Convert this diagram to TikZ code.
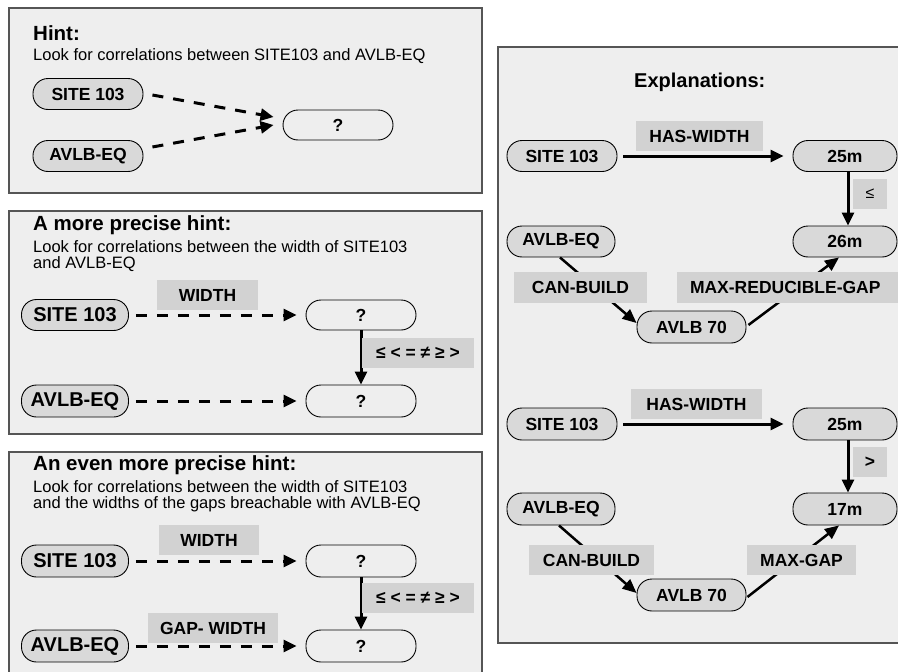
\documentclass[tikz,border=0pt]{standalone}
\usepackage{fontspec}
\setmainfont{Liberation Sans}
\usetikzlibrary{arrows.meta}
\definecolor{panelbg}{HTML}{EEEEEE}
\definecolor{panelline}{HTML}{555555}
\definecolor{nodegray}{HTML}{D9D9D9}
\definecolor{labgray}{HTML}{D2D2D2}
\tikzset{
  panel/.style={draw=panelline, line width=1.3pt, fill=panelbg},
  pill/.style={draw=black, line width=0.9pt, rounded corners=15pt, minimum height=31pt, inner sep=0pt, font=\fontsize{17.5}{20}\selectfont\bfseries},
  bigpill/.style={pill, font=\fontsize{20}{22}\selectfont\bfseries},
  grayfill/.style={fill=nodegray},
  lab/.style={fill=labgray, inner sep=0pt, minimum height=30pt, font=\fontsize{17.5}{20}\selectfont\bfseries},
  paneltitle/.style={anchor=west, inner sep=0pt, font=\fontsize{20.5}{23}\selectfont\bfseries},
  subtext/.style={anchor=west, inner sep=0pt, font=\fontsize{16.5}{19}\selectfont},
  dasharrow/.style={line width=3pt, dash pattern=on 11pt off 10pt, -{Triangle[length=13pt,width=12pt]}},
  solidarrow/.style={line width=3pt, -{Triangle[length=13pt,width=12pt]}},
  diagarrow/.style={line width=2.5pt, -{Triangle[length=14pt,width=12pt]}},
}
\begin{document}
\begin{tikzpicture}[x=1pt,y=-1pt]
\useasboundingbox (0,0) rectangle (898,672);
\clip (0,0) rectangle (898,672);
\fill[white] (0,0) rectangle (898,672);
% panels
\draw[panel] (9,8) rectangle (482,193);
\draw[panel] (9,211) rectangle (482,434);
\draw[panel] (9,452) rectangle (482,700);
\draw[panel] (498,47) rectangle (920,643);

% ---------- Panel 1
\node[paneltitle] (t1) at (33,33) {Hint:};
\node[subtext] (s1) at (33,56) {Look for correlations between SITE103 and AVLB-EQ};
\node[pill, grayfill, minimum width=110pt] (p1s) at (88,94) {SITE 103};
\node[pill, grayfill, minimum width=110pt] (p1a) at (88,156) {AVLB-EQ};
\node[pill, minimum width=110pt, minimum height=30pt] (p1q) at (338,125) {?};
\draw[dasharrow] ([xshift=9pt,yshift=-1pt]p1s.east) -- ([xshift=-9pt,yshift=8pt]p1q.west);
\draw[dasharrow] ([xshift=9pt,yshift=9pt]p1a.east) -- ([xshift=-9pt]p1q.west);

% ---------- Panel 2
\node[paneltitle] (t2) at (33,225) {A more precise hint:};
\node[subtext] (s2a) at (33,247) {Look for correlations between the width of SITE103};
\node[subtext] (s2b) at (33,264) {and AVLB-EQ};
\node[bigpill, grayfill, minimum width=107pt] (p2s) at (75,315) {SITE 103};
\node[pill, minimum width=110pt, minimum height=30pt] (p2q1) at (361,315) {?};
\node[bigpill, grayfill, minimum width=107pt, minimum height=32pt] (p2a) at (75,401) {AVLB-EQ};
\node[pill, minimum width=110pt, minimum height=32pt] (p2q2) at (361,401) {?};
\draw[dasharrow] ([xshift=7pt]p2s.east) -- ([xshift=-9pt]p2q1.west);
\draw[dasharrow] ([xshift=7pt]p2a.east) -- ([xshift=-9pt]p2q2.west);
\draw[solidarrow] (p2q1.south) -- (p2q2.north);
\node[lab, minimum width=101pt] (l2w) at (207.5,295) {WIDTH};
\node[lab, minimum width=112pt] (l2r) at (418,353) {≤ < = ≠ ≥ >};

% ---------- Panel 3
\node[paneltitle] (t3) at (33,465) {An even more precise hint:};
\node[subtext] (s3a) at (33,487) {Look for correlations between the width of SITE103};
\node[subtext] (s3b) at (33,504) {and the widths of the gaps breachable with AVLB-EQ};
\node[bigpill, grayfill, minimum width=107pt, minimum height=32pt] (p3s) at (75,561) {SITE 103};
\node[pill, minimum width=110pt, minimum height=32pt] (p3q1) at (361,561) {?};
\node[bigpill, grayfill, minimum width=107pt, minimum height=32pt] (p3a) at (75,646) {AVLB-EQ};
\node[pill, minimum width=110pt, minimum height=32pt] (p3q2) at (361,646) {?};
\draw[dasharrow] ([xshift=7pt]p3s.east) -- ([xshift=-9pt]p3q1.west);
\draw[dasharrow] ([xshift=7pt]p3a.east) -- ([xshift=-9pt]p3q2.west);
\draw[solidarrow] (p3q1.south) -- (p3q2.north);
\node[lab, minimum width=100pt] (l3w) at (209,540) {WIDTH};
\node[lab, minimum width=112pt] (l3r) at (418,598) {≤ < = ≠ ≥ >};
\node[lab, minimum width=130pt] (l3g) at (213,628) {GAP- WIDTH};

% ---------- Right panel
\node[paneltitle, font=\fontsize{20}{23}\selectfont\bfseries] (t4) at (634,82) {Explanations:};
% group 1
\node[pill, grayfill, minimum width=110pt] (r1s) at (562,156) {SITE 103};
\node[pill, grayfill, minimum width=104pt] (r1w) at (845,156) {25m};
\node[pill, grayfill, minimum width=104pt] (r1t) at (845,241.5) {26m};
\node[pill, grayfill, minimum width=108pt] (r1a) at (561,241.5) {AVLB-EQ};
\node[pill, grayfill, minimum width=109pt, minimum height=32pt] (r1b) at (691.5,327) {AVLB 70};
\draw[solidarrow] ([xshift=6pt]r1s.east) -- ([xshift=-9pt]r1w.west);
\draw[solidarrow] ([xshift=3pt]r1w.south) -- ([xshift=3pt]r1t.north);
\draw[diagarrow] ([xshift=-1pt]r1a.south) -- ([yshift=4pt]r1b.west);
\draw[diagarrow] ([xshift=2pt,yshift=2pt]r1b.east) -- ([xshift=-6pt]r1t.south);
\node[lab, minimum width=127pt] (l4h) at (699.5,136) {HAS-WIDTH};
\node[lab, minimum width=34pt, font=\fontsize{16}{18}\selectfont] (l4le) at (870,194) {≤};
\node[lab, minimum width=133pt, minimum height=31pt] (l4c) at (580.5,287.5) {CAN-BUILD};
\node[lab, minimum width=226pt, minimum height=31pt, text width=226pt, align=left] (l4m) at (790,287.5) {\hspace*{13pt}MAX-REDUCIBLE-GAP};
% group 2
\node[pill, grayfill, minimum width=110pt, minimum height=32pt] (r2s) at (562,424) {SITE 103};
\node[pill, grayfill, minimum width=104pt, minimum height=32pt] (r2w) at (845,424) {25m};
\node[pill, grayfill, minimum width=104pt, minimum height=32pt] (r2t) at (845,509) {17m};
\node[pill, grayfill, minimum width=108pt, minimum height=32pt] (r2a) at (561,509) {AVLB-EQ};
\node[pill, grayfill, minimum width=109pt, minimum height=32pt] (r2b) at (691.5,595) {AVLB 70};
\draw[solidarrow] ([xshift=6pt]r2s.east) -- ([xshift=-9pt]r2w.west);
\draw[solidarrow] ([xshift=3pt]r2w.south) -- ([xshift=3pt]r2t.north);
\draw[diagarrow] ([xshift=-2pt]r2a.south) -- ([yshift=2pt]r2b.west);
\draw[diagarrow] ([xshift=1pt,yshift=-2pt]r2b.east) -- ([xshift=-6pt]r2t.south);
\node[lab, minimum width=131pt] (l5h) at (696.5,404) {HAS-WIDTH};
\node[lab, minimum width=34pt] (l5gt) at (870,462) {>};
\node[lab, minimum width=125pt] (l5c) at (591.5,560) {CAN-BUILD};
\node[lab, minimum width=109pt] (l5m) at (801.5,560) {MAX-GAP};
\end{tikzpicture}
\end{document}
